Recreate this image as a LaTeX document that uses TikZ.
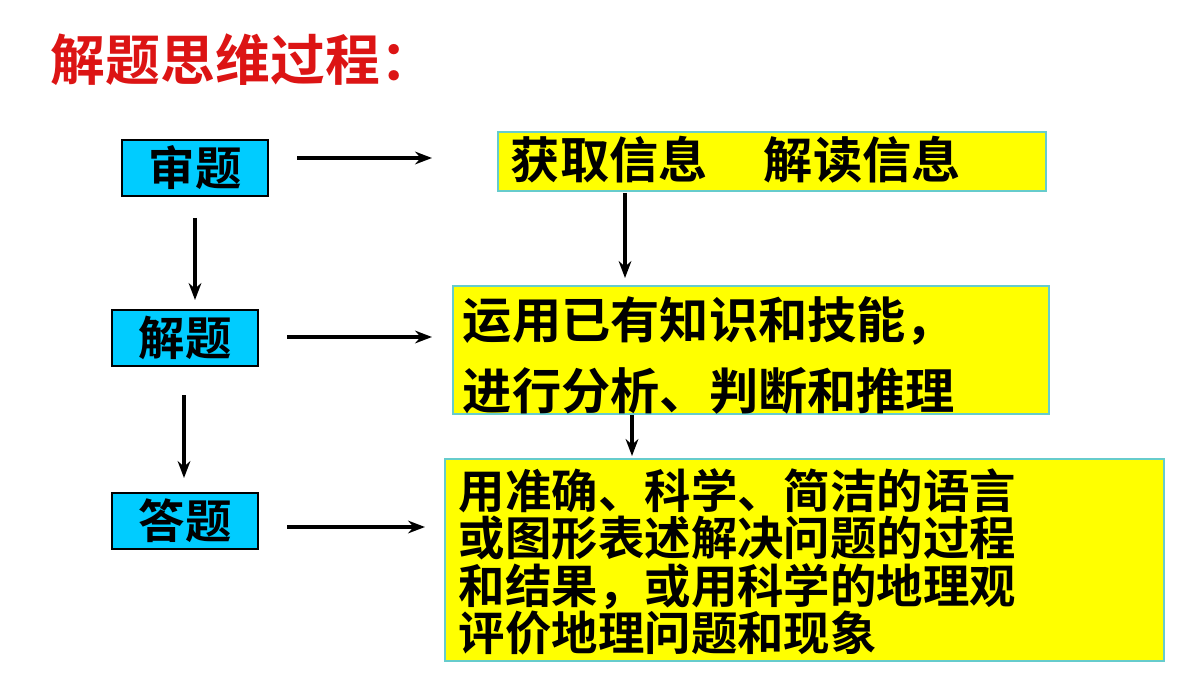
\documentclass[tikz,border=0pt]{standalone}
\usepackage{fontspec}
\setmainfont{Noto Sans CJK SC}[BoldFont={Noto Sans CJK SC Bold}]
\usetikzlibrary{positioning,arrows.meta}
\definecolor{stepcyan}{RGB}{0,204,255}
\definecolor{infoyellow}{RGB}{255,255,0}
\definecolor{bordercyan}{RGB}{102,204,204}
\definecolor{titlered}{RGB}{220,20,20}
\begin{document}
\begin{tikzpicture}[x=0.025cm,y=-0.025cm,
  stepbox/.style={draw=black,line width=0.8pt,fill=stepcyan,minimum width=3.65cm,minimum height=1.4cm,font=\fontsize{33}{36}\selectfont\bfseries,inner sep=0pt},
  infobox/.style={draw=bordercyan,line width=1.2pt,fill=infoyellow,anchor=north west,inner sep=0pt},
  link/.style={-{Stealth[length=12pt,width=9pt]},line width=3pt}]
			\useasboundingbox (0,0) rectangle (1200,675);
			\node[font=\fontsize{39}{42}\selectfont\bfseries,color=titlered,anchor=west] (title) at (46,60) {解题思维过程：};
				% left column
				\node[stepbox] (shen) at (195,168) {审题};
				\node[stepbox] (jie) at (185,338) {解题};
				\node[stepbox] (da) at (185,521) {答题};
				% right column
				\node[infobox,minimum width=13.7cm,minimum height=1.475cm] (info) at (497,131) {};
				\node[anchor=west,font=\fontsize{35}{40}\selectfont\bfseries] (infot) at (506,160) {获取信息\hspace{1.4cm}解读信息};
				\node[infobox,minimum width=14.9cm,minimum height=3.2cm] (think) at (452,285) {};
				\node[anchor=north west,align=left,font=\fontsize{35}{50}\selectfont\bfseries] (thinkt) at (458,292) {运用已有知识和技能，\\进行分析、判断和推理};
				\node[infobox,minimum width=17.975cm,minimum height=5.05cm] (answer) at (444,458) {};
				\node[anchor=north west,align=left,font=\fontsize{33}{33.5}\selectfont\bfseries] (answert) at (454,464) {用准确、科学、简洁的语言\\或图形表述解决问题的过程\\和结果，或用科学的地理观\\评价地理问题和现象};
				% arrows
				\coordinate (a1) at (297,158); \coordinate (b1) at (432,158);
				\coordinate (a2) at (287,337); \coordinate (b2) at (432,337);
				\coordinate (a3) at (287,527); \coordinate (b3) at (425,527);
				\draw[link] (a1)--(b1);
				\draw[link] (a2)--(b2);
				\draw[link] (a3)--(b3);
				\draw[link] (195,218)--(195,300);
				\draw[link] (184,395)--(184,478);
				\draw[link] (625,193)--(625,278);
				\draw[link] (632,415)--(632,456);
		\end{tikzpicture}
\end{document}
